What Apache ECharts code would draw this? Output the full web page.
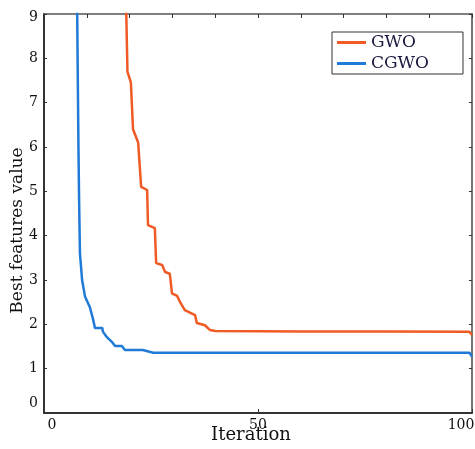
<!DOCTYPE html>
<html>
<head>
<meta charset="utf-8">
<script src="https://cdn.jsdelivr.net/npm/echarts@6/dist/echarts.min.js"></script>
<style>
html,body{margin:0;padding:0;background:#fff;}
#chart{width:475px;height:449px;}
</style>
</head>
<body>
<div id="chart"></div>
<script>
var seriesNames = ['GWO', 'CGWO'];
var gwoIter  = [19.1, 19.5, 20.3, 20.8, 22.0, 22.4, 22.7, 24.1, 24.3, 25.9, 26.2, 27.6, 28.3, 29.4, 29.9, 31.1, 31.8, 32.9, 35.3, 35.7, 37.6, 38.8, 40.0, 60, 80, 99.4, 100];
var gwoValue = [9.6, 7.7, 7.45, 6.4, 6.1, 6.1, 5.1, 5.03, 4.24, 4.17, 3.38, 3.34, 3.18, 3.14, 2.7, 2.64, 2.5, 2.32, 2.21, 2.03, 1.98, 1.87, 1.85, 1.84, 1.84, 1.83, 1.76];
var cgwoIter  = [7.7, 7.9, 8.05, 8.2, 8.4, 8.9, 9.6, 10.7, 11.4, 11.9, 13.6, 13.8, 14.7, 15.9, 16.6, 18.2, 18.9, 23.1, 25.5, 99.4, 100];
var cgwoValue = [9.6, 7.5, 6.0, 4.8, 3.6, 3.0, 2.62, 2.39, 2.14, 1.92, 1.92, 1.83, 1.71, 1.6, 1.51, 1.51, 1.42, 1.42, 1.36, 1.36, 1.27];
var xTickLabels = ['0', '50', '100'];
var yTickLabels = ['0', '1', '2', '3', '4', '5', '6', '7', '8', '9'];

function pairs(xs, ys) { return xs.map(function (x, i) { return [x, ys[i]]; }); }

var serif = 'DejaVu Serif';
var chart = echarts.init(document.getElementById('chart'), null, {renderer: 'canvas'});
chart.setOption({
  backgroundColor: '#ffffff',
  animation: false,
  grid: {left: 44, right: 3, top: 14, bottom: 36, containLabel: false, outerBoundsMode: 'none'},
  legend: {
    left: 332, top: 32, orient: 'vertical',
    data: seriesNames,
    itemWidth: 29, itemHeight: 3, itemGap: 4, itemTextGap: 3,
    icon: 'rect',
    borderColor: '#333', borderWidth: 1, backgroundColor: '#fff',
    padding: [2, 34, 2, 5],
    textStyle: {fontFamily: serif, fontSize: 17, color: '#1a1a40', lineHeight: 17}
  },
  xAxis: [{
    type: 'value', position: 'bottom', min: 0, max: 100, interval: 50,
    name: 'Iteration', nameLocation: 'middle', nameGap: 13, nameMoveOverlap: false,
    nameTextStyle: {fontFamily: serif, fontSize: 18, color: '#111', padding: [0, 14, 0, 0], verticalAlign: 'top'},
    axisLine: {show: true, lineStyle: {color: '#333', width: 2}},
    axisTick: {show: true, inside: true, length: 4, lineStyle: {color: '#333'}},
    splitLine: {show: false},
    axisLabel: {
      margin: 5, fontFamily: serif, fontSize: 14, color: '#111',
      formatter: function (v) {
        var s = xTickLabels[Math.round(v / 50)];
        if (v === 0) return '{a|' + s + '}';
        if (v === 100) return '{b|' + s + '}';
        return s;
      },
      rich: {
        a: {fontFamily: serif, fontSize: 14, color: '#111', padding: [0, 0, 0, 16]},
        b: {fontFamily: serif, fontSize: 14, color: '#111', padding: [0, 22, 0, 0]}
      }
    }
  }, {
    type: 'value', position: 'top', min: 0, max: 100, interval: 10,
    axisLine: {show: true, onZero: false, lineStyle: {color: '#555', width: 1.5}},
    axisTick: {show: true, inside: true, length: 4, lineStyle: {color: '#333'}},
    axisLabel: {show: false}, splitLine: {show: false}
  }],
  yAxis: [{
    type: 'value', position: 'left', min: 0, max: 9, interval: 1,
    name: 'Best features value', nameLocation: 'middle', nameGap: 18, nameMoveOverlap: false,
    nameTextStyle: {fontFamily: serif, fontSize: 17, color: '#111', padding: [0, 34, 0, 0]},
    axisLine: {show: true, onZero: false, lineStyle: {color: '#333', width: 2}},
    axisTick: {show: true, inside: true, length: 3, lineStyle: {color: '#333'}},
    splitLine: {show: false},
    axisLabel: {margin: 6, fontFamily: serif, fontSize: 14, color: '#111',
      formatter: function (v) {
        var s = yTickLabels[Math.round(v)];
        if (v === 0) return '{z|' + s + '}';
        if (v === 9) return '{n|' + s + '}';
        return s;
      },
      rich: {
        z: {fontFamily: serif, fontSize: 14, color: '#111', padding: [0, 0, 20, 0]},
        n: {fontFamily: serif, fontSize: 14, color: '#111', padding: [6, 0, 0, 0]}
      }
    }
  }, {
    type: 'value', position: 'right', min: 0, max: 9, interval: 1,
    axisLine: {show: true, onZero: false, lineStyle: {color: '#444', width: 1.5}},
    axisTick: {show: true, inside: true, length: 3, lineStyle: {color: '#333'}},
    axisLabel: {show: false}, splitLine: {show: false}
  }],
  series: [{
    name: seriesNames[0], type: 'line', xAxisIndex: 0, yAxisIndex: 0,
    data: pairs(gwoIter, gwoValue), showSymbol: false, clip: true,
    lineStyle: {color: '#F05A24', width: 2.5}, itemStyle: {color: '#F05A24'}
  }, {
    name: seriesNames[1], type: 'line', xAxisIndex: 0, yAxisIndex: 0,
    data: pairs(cgwoIter, cgwoValue), showSymbol: false, clip: true,
    lineStyle: {color: '#1F7AD8', width: 2.5}, itemStyle: {color: '#1F7AD8'}
  }]
});
</script>
</body>
</html>
